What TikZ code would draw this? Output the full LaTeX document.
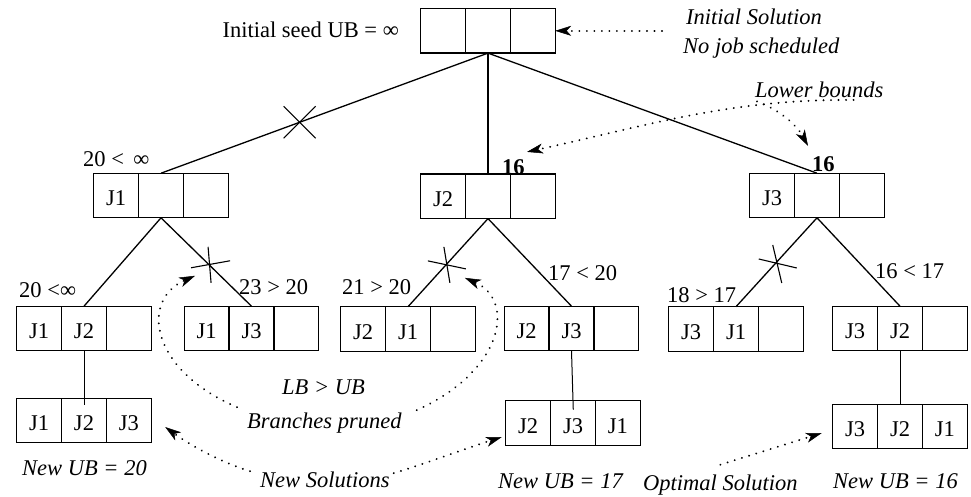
\documentclass[tikz,border=0pt]{standalone}
\usepackage{fontspec}
\setmainfont{Liberation Serif}
\usetikzlibrary{arrows.meta}

% three-cell job row: name of the middle cell, centre, and the three entries
\newcommand\jobrow[5]{%
  \node[cell] (#1) at (#2) {#4};
  \node[cell, anchor=east] (#1-l) at (#1.west) {#3};
  \node[cell, anchor=west] (#1-r) at (#1.east) {#5};
}

\begin{document}
\begin{tikzpicture}[x=1pt, y=-1pt,
  every node/.style={font=\fontsize{22.5}{27}\selectfont},
  cell/.style={draw, line width=1.3pt, minimum width=44.8pt, minimum height=44.6pt,
    inner sep=0pt, outer sep=0pt, text height=20pt, text depth=0pt},
  tree/.style={line width=1.3pt},
  stem/.style={line width=1pt},
  cut/.style={line width=1.1pt},
  lbl/.style={inner sep=0pt, anchor=base west},
  note/.style={inner sep=0pt, anchor=base west, font=\fontsize{22.5}{27}\selectfont\itshape},
  hint/.style={line width=2.1pt, dash pattern=on 0.01pt off 7.5pt, line cap=round,
    -{Stealth[length=16pt, width=10pt, inset=4.5pt, line width=0.5pt]}}
]
\useasboundingbox (0,0) rectangle (971,496);

% search tree
\jobrow{r}{488,30.8}{}{}{}
\jobrow{a1}{161,195.5}{J1}{}{}
\jobrow{a2}{488,196.3}{J2}{}{}
\jobrow{a3}{817,195.5}{J3}{}{}
\jobrow{b1}{84,328.5}{J1}{J2}{}
\jobrow{b2}{251.5,328.5}{J1}{J3}{}
\jobrow{b3}{408,329}{J2}{J1}{}
\jobrow{b4}{571.5,328.5}{J2}{J3}{}
\jobrow{b5}{736,329}{J3}{J1}{}
\jobrow{b6}{900,328.5}{J3}{J2}{}
\jobrow{c1}{84,420.5}{J1}{J2}{J3}
\jobrow{c2}{573,423}{J2}{J3}{J1}
\jobrow{c3}{900,426.5}{J3}{J2}{J1}

\draw[tree] (r.south) -- coordinate[pos=0.576] (k1) (a1.north);
\draw[tree] (r.south) -- (a2.north);
\draw[tree] (r.south) -- (a3.north);
\draw[tree] (a1.south) -- (b1.north);
\draw[tree] (a1.south) -- coordinate[pos=0.52] (k2) (b2.north);
\draw[tree] (a2.south) -- coordinate[pos=0.514] (k3) (b3.north);
\draw[tree] (a2.south) -- (b4.north);
\draw[tree] (a3.south) -- coordinate[pos=0.497] (k4) (b5.north);
\draw[tree] (a3.south) -- (b6.north);
\draw[stem, shorten >=-7pt] (b1.south) -- (c1.north);
\draw[stem, shorten >=-9pt] (b4.south) -- (c2.north);
\draw[stem] (b6.south) -- (c3.north);

% pruned branches
\draw[cut] ([shift={(-16pt,16pt)}]k1) -- ([shift={(16pt,-16pt)}]k1)
           ([shift={(-16pt,-16pt)}]k1) -- ([shift={(16pt,16pt)}]k1);
\draw[cut] ([shift={(-17pt,-4pt)}]k2) -- ([shift={(22pt,3pt)}]k2)
           ([shift={(0pt,17pt)}]k2) -- ([shift={(3pt,-19pt)}]k2);
\draw[cut] ([shift={(-19pt,3pt)}]k3) -- ([shift={(19pt,-5pt)}]k3)
           ([shift={(-3pt,17pt)}]k3) -- ([shift={(3pt,-19pt)}]k3);
\draw[cut] ([shift={(-18pt,3pt)}]k4) -- ([shift={(20pt,-6pt)}]k4)
           ([shift={(-4pt,17pt)}]k4) -- ([shift={(5pt,-21pt)}]k4);

% bounds
\node[lbl, anchor=base east] (seed) at (399,37) {Initial seed UB = ∞};
\node[lbl] (v1) at (83,166) {20 <\, ∞};
\node[lbl, font=\fontsize{22.5}{27}\selectfont\bfseries] (lba) at (502,174) {16};
\node[lbl, font=\fontsize{22.5}{27}\selectfont\bfseries] (lbb) at (812,171) {16};
\node[lbl] (v2) at (19,297) {20 <∞};
\node[lbl] (v3) at (239,294) {23 > 20};
\node[lbl] (v4) at (342,294) {21 > 20};
\node[lbl] (v5) at (548,280) {17 < 20};
\node[lbl] (v6) at (667,302) {18 > 17};
\node[lbl] (v7) at (875,278) {16 < 17};

% remarks
\node[note] (is) at (686,24) {Initial Solution};
\node[note] (nj) at (683,53) {No job scheduled};
\node[note] (lb) at (755,97) {Lower bounds};
\node[note] (lu) at (282,394) {LB > UB};
\node[note] (bp) at (247,428) {Branches pruned};
\node[note] (u20) at (22,475) {New UB = 20};
\node[note] (ns) at (260,487) {New Solutions};
\node[note] (u17) at (498,488) {New UB = 17};
\node[note] (os) at (643,490.5) {Optimal Solution};
\node[note] (u16) at (833,488) {New UB = 16};

% remark pointers
\coordinate (isfrom) at (662,30.8);
\draw[hint] (isfrom) -- (r-r.east);
\draw[hint] ([shift={(-30pt,-2.5pt)}]lb.south east)
  .. controls (730,99) and (650,125) .. ([shift={(25pt,7pt)}]lba.north west);
\draw[hint] ([shift={(2pt,-4pt)}]lb.south west)
  .. controls (775,108) and (795,122) .. ([shift={(-4pt,10pt)}]lbb.north west);
\draw[hint] ([shift={(-10pt,5pt)}]bp.north west)
  .. controls (150,370) and (140,300) .. ([shift={(-13pt,-12pt)}]k2);
\draw[hint] ([shift={(15pt,2pt)}]bp.north east)
  .. controls (505,370) and (515,300) .. ([shift={(18pt,-14pt)}]k3);
\draw[hint] ([shift={(-10pt,0pt)}]ns.north west)
  .. controls (220,462) and (190,445) .. ([shift={(14pt,-6.5pt)}]c1-r.east);
\draw[hint] ([shift={(4pt,-2pt)}]ns.north east)
  .. controls (430,462) and (470,447) .. ([shift={(-4pt,-14pt)}]c2-l.west);
\draw[hint] ([yshift=10pt]os.north) -- ([shift={(-11pt,-6.5pt)}]c3-l.west);
\end{tikzpicture}
\end{document}
